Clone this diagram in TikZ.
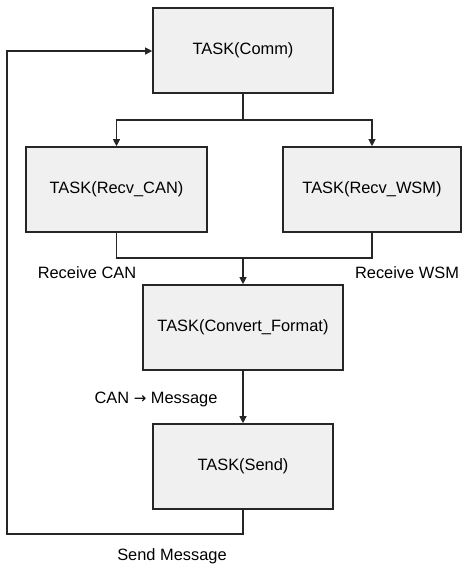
\documentclass[tikz,border=0pt]{standalone}
\usepackage{fontspec}
\setmainfont{Liberation Sans}
\newfontfamily\symfont{DejaVu Sans}
\usetikzlibrary{arrows.meta}
\begin{document}
\begin{tikzpicture}[x=1pt,y=-1pt,
  taskbox/.style={draw=black!85,line width=1.6pt,fill=black!6,minimum width=#1,minimum height=85pt,inner sep=0pt,font=\fontsize{16.4}{18}\selectfont},
  taskbox/.default=180pt,
  conn/.style={draw=black!85,line width=1.1pt},
  arr/.style={conn,-{Triangle[length=7pt,width=7pt]}},
  lbl/.style={font=\fontsize{16.4}{18}\selectfont,inner sep=0pt}]
\useasboundingbox (0,0) rectangle (463,564);
\node[taskbox] (comm) at (243,50.5) {TASK(Comm)};
\node[taskbox=181pt] (rcan) at (116.5,189.5) {TASK(Recv\_CAN)};
\node[taskbox=178pt] (rwsm) at (372,189.5) {TASK(Recv\_WSM)};
\node[taskbox=200pt] (conv) at (243,327.5) {TASK(Convert\_Format)};
\node[taskbox] (send) at (243,466.5) {TASK(Send)};
\coordinate (j1) at (243,120);
\coordinate (j2) at (243,258);
\coordinate (j3) at (243,534);
\coordinate (j4) at (7,534);
\coordinate (j5) at (7,51);
\draw[conn] (comm.south) -- (j1);
\draw[arr] (j1) -| (rcan.north);
\draw[arr] (j1) -| (rwsm.north);
\draw[conn] (rcan.south) |- (j2);
\draw[conn] (rwsm.south) |- (j2);
\draw[arr] (j2) -- (conv.north);
\draw[arr] (conv.south) -- (send.north);
\draw[arr] (send.south) -- (j3) -- (j4) -- (j5) -- (comm.west |- j5);
\node[lbl] (l1) at (87,273) {Receive CAN};
\node[lbl] (l2) at (407,273) {Receive WSM};
\node[lbl] (l3) at (156,399) {CAN {\symfont\fontsize{15}{18}\selectfont →} Message};
\node[lbl] (l4) at (172,556) {Send Message};
\end{tikzpicture}
\end{document}
